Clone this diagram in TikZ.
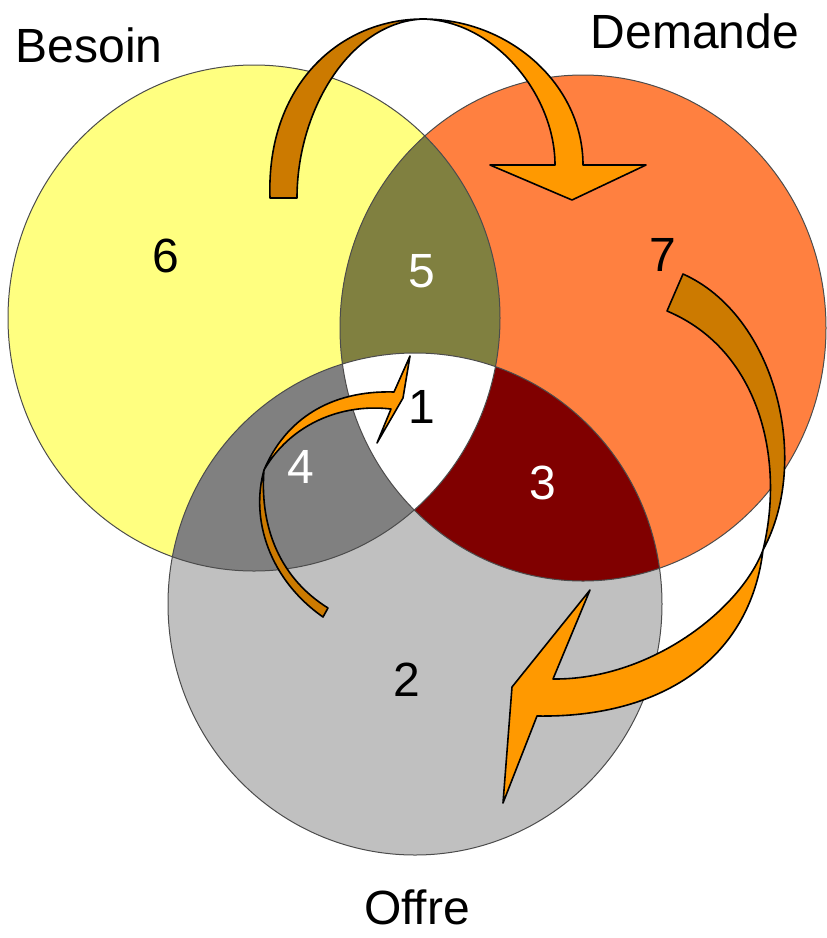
\documentclass[tikz,border=0pt]{standalone}
\usepackage{fontspec}
\setmainfont{Liberation Sans}
\usetikzlibrary{arrows.meta,positioning}
\definecolor{besoin}{HTML}{FFFF80}
\definecolor{demande}{HTML}{FF8040}
\definecolor{offre}{HTML}{C0C0C0}
\definecolor{bd}{HTML}{808040}
\definecolor{bo}{HTML}{808080}
\definecolor{do}{HTML}{800000}
\definecolor{clair}{HTML}{FF9900}
\definecolor{fonce}{HTML}{CC7A00}

\begin{document}
\begin{tikzpicture}[x=1pt,y=-1pt,
  every node/.style={font=\fontsize{48}{56}\selectfont,inner sep=0pt},
  titre/.style={font=\fontsize{48}{56}\selectfont},
  zone/.style={draw=black!70,line width=1pt},
  fleche/.style={draw=black,line width=1.6pt,line join=round,fill=clair},
  ombre/.style={fleche,fill=fonce}]
\useasboundingbox (0,0) rectangle (827,938);
\def\besoin{(254,318) ellipse [x radius=246,y radius=253]}
\def\demande{(583,328) ellipse [x radius=243,y radius=253]}
\def\offre{(415,604) ellipse [x radius=247,y radius=251]}
\fill[besoin] \besoin;
\fill[demande] \demande;
\fill[offre] \offre;
\begin{scope}\clip \besoin; \fill[bd] \demande; \fill[bo] \offre; \end{scope}
\begin{scope}\clip \demande; \fill[do] \offre; \end{scope}
\begin{scope}\clip \besoin; \clip \demande; \fill[white] \offre; \end{scope}
\draw[zone] \besoin;
\draw[zone] \demande;
\draw[zone] \offre;

\node[titre] (b) at (89,45) {Besoin};
\node[titre] (d) at (695,31) {Demande};
\node[titre] (o) at (417,907) {Offre};
\node (n6) at (166,256) {6};
\node[text=white] (n5) at (422,271) {5};
\node (n7) at (663,255) {7};
\node (n1) at (422,407) {1};
\node[text=white] (n4) at (301,467) {4};
\node[text=white] (n3) at (543,483) {3};
\node (n2) at (407,680) {2};

\draw[ombre] (270,198) .. controls (266,85) and (340,19) .. (423,19)
  .. controls (350,22) and (297,110) .. (297,198) -- cycle;
\draw[fleche] (423,19) .. controls (510,19) and (583,85) .. (583,165)
  -- (646,165) -- (572,200) -- (490,165) -- (555,165)
  .. controls (555,95) and (495,21) .. (423,19) -- cycle;

\draw[ombre] (683,274) .. controls (775,315) and (812,460) .. (763,550)
  .. controls (785,460) and (760,350) .. (667,311) -- cycle;
\draw[fleche] (763,550) .. controls (740,610) and (650,680) .. (553,679)
  -- (590,590) -- (512,687) -- (503,803) -- (537,716)
  .. controls (660,718) and (750,660) .. (763,550) -- cycle;

\draw[ombre] (264,470) .. controls (250,520) and (270,580) .. (323,617)
  -- (328,608) .. controls (275,575) and (260,520) .. (264,470) -- cycle;
\draw[fleche] (264,470) .. controls (285,420) and (330,390) .. (394,392)
  -- (410,356) -- (403,398) -- (377,443) -- (391,409)
  .. controls (340,403) and (290,425) .. (264,470) -- cycle;
\end{tikzpicture}
\end{document}
